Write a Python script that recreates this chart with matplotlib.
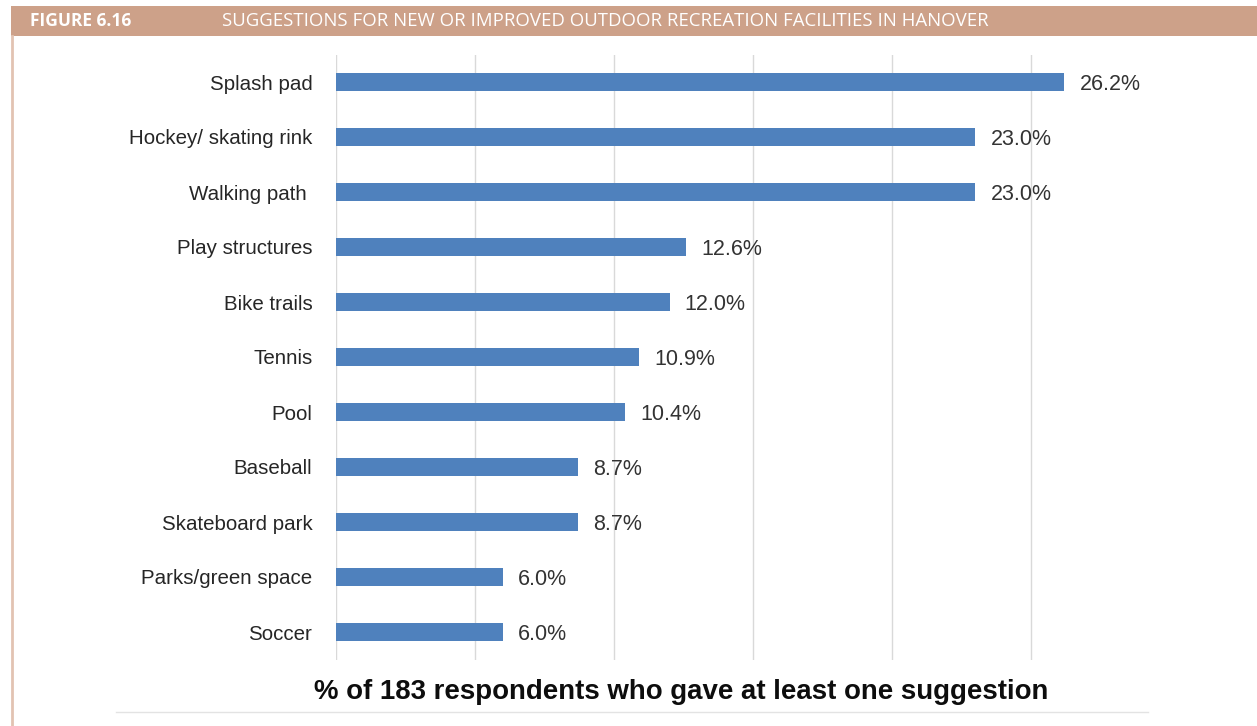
import matplotlib
matplotlib.use("Agg")
import matplotlib.pyplot as plt
from matplotlib.patches import Rectangle
from matplotlib.lines import Line2D

# Survey results: share of respondents suggesting each facility
facilities = [
    "Splash pad",
    "Hockey/ skating rink",
    "Walking path ",
    "Play structures",
    "Bike trails",
    "Tennis",
    "Pool",
    "Baseball",
    "Skateboard park",
    "Parks/green space",
    "Soccer",
]
pct = [26.2, 23.0, 23.0, 12.6, 12.0, 10.9, 10.4, 8.7, 8.7, 6.0, 6.0]
x_ticks = [0, 5, 10, 15, 20, 25]

fig_label = "FIGURE 6.16"
fig_title = "SUGGESTIONS FOR NEW OR IMPROVED OUTDOOR RECREATION FACILITIES IN HANOVER"
x_title = "% of 183 respondents who gave at least one suggestion"

BAR = "#4F81BD"
GRID = "#D9D9D9"
HEADER = "#CDA189"
BORDER = "#E2C3B2"

plt.rcParams["font.family"] = ["Liberation Sans", "DejaVu Sans"]

W, H = 1257, 726
fig = plt.figure(figsize=(W / 100, H / 100), dpi=100)
fig.patch.set_facecolor("white")

# header band + frame lines
fig.add_artist(Rectangle((11 / W, 1 - 36 / H), 1 - 11 / W, 30 / H,
                         transform=fig.transFigure, color=HEADER, lw=0))
fig.add_artist(Line2D([12 / W, 12 / W], [0, 1 - 36 / H], transform=fig.transFigure,
                      color=BORDER, lw=2))
fig.add_artist(Line2D([116 / W, 1148 / W], [1 - 712 / H, 1 - 712 / H],
                      transform=fig.transFigure, color="#E3E3E3", lw=1))
fig.text(30 / W, 1 - 21 / H, fig_label, color="white", fontsize=12.5,
         fontweight="bold", family=["Open Sans", "DejaVu Sans"], va="center", ha="left")
fig.text(222 / W, 1 - 21 / H, fig_title, color="white", fontsize=13.4,
         family=["Open Sans", "DejaVu Sans"], va="center", ha="left")

ax = fig.add_axes([336 / W, 1 - 659.5 / H, 806 / W, 605 / H])
ypos = list(range(len(facilities)))
ax.barh(ypos, pct, height=0.345, color=BAR, zorder=2)
for y, v in zip(ypos, pct):
    ax.text(v + 0.55, y + 0.05, f"{v:.1f}%", va="center", ha="left",
            fontsize=15.5, color="#333333")

ax.set_xlim(0, 29)
ax.set_ylim(len(facilities) - 0.5, -0.5)
ax.set_xticks(x_ticks)
ax.set_xticklabels([])
ax.set_yticks(ypos)
ax.set_yticklabels(facilities, fontsize=14.8, color="#262626")
ax.tick_params(axis="both", length=0)
ax.tick_params(axis="y", pad=17)
ax.grid(axis="x", color=GRID, lw=1, zorder=0)
for s in ax.spines.values():
    s.set_visible(False)

fig.text(681 / W, 1 - 692 / H, x_title, fontsize=19.9, fontweight="bold",
         color="#0D0D0D", ha="center", va="center")

fig.savefig("out.png", dpi=100)
